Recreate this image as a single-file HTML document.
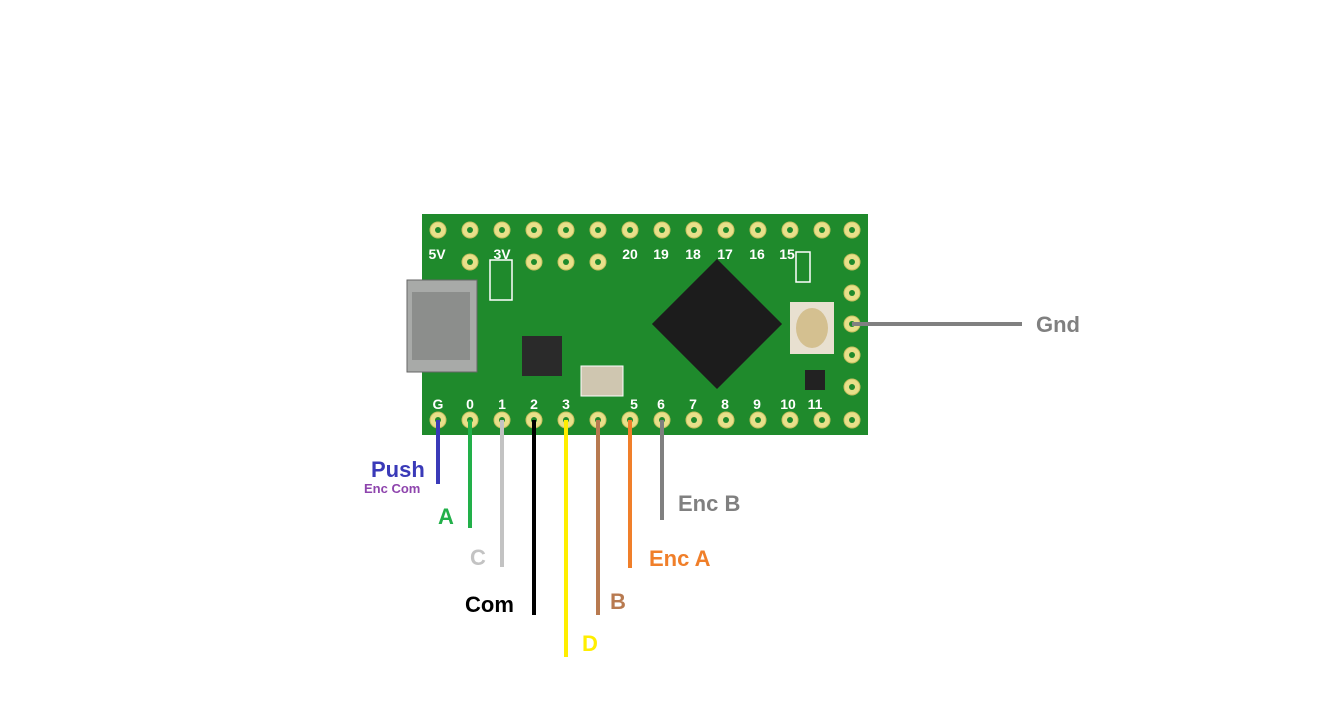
<!DOCTYPE html>
<html><head><style>
html,body{margin:0;padding:0;background:#fff;}
svg text{font-family:"Liberation Sans",sans-serif;font-weight:bold;}
</style></head><body>
<svg width="1336" height="698" viewBox="0 0 1336 698" xmlns="http://www.w3.org/2000/svg">
<rect x="422" y="214" width="446" height="221" fill="#1f8a2c"/>
<g fill="#e8e08a" stroke="#c9c060" stroke-width="1">
<!-- top row -->
<circle cx="438" cy="230" r="8"/><circle cx="470" cy="230" r="8"/><circle cx="502" cy="230" r="8"/><circle cx="534" cy="230" r="8"/><circle cx="566" cy="230" r="8"/><circle cx="598" cy="230" r="8"/><circle cx="630" cy="230" r="8"/><circle cx="662" cy="230" r="8"/><circle cx="694" cy="230" r="8"/><circle cx="726" cy="230" r="8"/><circle cx="758" cy="230" r="8"/><circle cx="790" cy="230" r="8"/><circle cx="822" cy="230" r="8"/><circle cx="852" cy="230" r="8"/>
<!-- bottom row -->
<circle cx="438" cy="420" r="8"/><circle cx="470" cy="420" r="8"/><circle cx="502" cy="420" r="8"/><circle cx="534" cy="420" r="8"/><circle cx="566" cy="420" r="8"/><circle cx="598" cy="420" r="8"/><circle cx="630" cy="420" r="8"/><circle cx="662" cy="420" r="8"/><circle cx="694" cy="420" r="8"/><circle cx="726" cy="420" r="8"/><circle cx="758" cy="420" r="8"/><circle cx="790" cy="420" r="8"/><circle cx="822" cy="420" r="8"/><circle cx="852" cy="420" r="8"/>
<!-- right column -->
<circle cx="852" cy="262" r="8"/><circle cx="852" cy="293" r="8"/><circle cx="852" cy="324" r="8"/><circle cx="852" cy="355" r="8"/><circle cx="852" cy="387" r="8"/>
<!-- second row -->
<circle cx="470" cy="262" r="8"/><circle cx="534" cy="262" r="8"/><circle cx="566" cy="262" r="8"/><circle cx="598" cy="262" r="8"/>
</g>
<g fill="#1f8a2c"><circle cx="438" cy="230" r="3"/><circle cx="470" cy="230" r="3"/><circle cx="502" cy="230" r="3"/><circle cx="534" cy="230" r="3"/><circle cx="566" cy="230" r="3"/><circle cx="598" cy="230" r="3"/><circle cx="630" cy="230" r="3"/><circle cx="662" cy="230" r="3"/><circle cx="694" cy="230" r="3"/><circle cx="726" cy="230" r="3"/><circle cx="758" cy="230" r="3"/><circle cx="790" cy="230" r="3"/><circle cx="822" cy="230" r="3"/><circle cx="852" cy="230" r="3"/>
<circle cx="438" cy="420" r="3"/><circle cx="470" cy="420" r="3"/><circle cx="502" cy="420" r="3"/><circle cx="534" cy="420" r="3"/><circle cx="566" cy="420" r="3"/><circle cx="598" cy="420" r="3"/><circle cx="630" cy="420" r="3"/><circle cx="662" cy="420" r="3"/><circle cx="694" cy="420" r="3"/><circle cx="726" cy="420" r="3"/><circle cx="758" cy="420" r="3"/><circle cx="790" cy="420" r="3"/><circle cx="822" cy="420" r="3"/><circle cx="852" cy="420" r="3"/>
<circle cx="852" cy="262" r="3"/><circle cx="852" cy="293" r="3"/><circle cx="852" cy="324" r="3"/><circle cx="852" cy="355" r="3"/><circle cx="852" cy="387" r="3"/>
<circle cx="470" cy="262" r="3"/><circle cx="534" cy="262" r="3"/><circle cx="566" cy="262" r="3"/><circle cx="598" cy="262" r="3"/></g>
<!-- USB -->
<rect x="407" y="280" width="70" height="92" fill="#a8aaa8" stroke="#666"/>
<rect x="412" y="292" width="58" height="68" fill="#8c8e8c"/>
<!-- chip -->
<rect x="671" y="278" width="92" height="92" fill="#1c1c1c" transform="rotate(45 717 324)"/>
<rect x="522" y="336" width="40" height="40" fill="#2a2a2a"/>
<rect x="581" y="366" width="42" height="30" fill="#cfc6b0" stroke="#fff"/>
<rect x="790" y="302" width="44" height="52" fill="#e8e0d0"/>
<ellipse cx="812" cy="328" rx="16" ry="20" fill="#d4c090"/>
<rect x="490" y="260" width="22" height="40" fill="none" stroke="#fff" stroke-width="1.5"/>
<rect x="796" y="252" width="14" height="30" fill="none" stroke="#fff" stroke-width="1.5"/>
<rect x="805" y="370" width="20" height="20" fill="#222"/>
<g fill="#fff" font-size="14" text-anchor="middle">
<text x="437" y="259">5V</text><text x="502" y="259">3V</text><text x="630" y="259">20</text><text x="661" y="259">19</text><text x="693" y="259">18</text><text x="725" y="259">17</text><text x="757" y="259">16</text><text x="787" y="259">15</text>
<text x="438" y="409">G</text><text x="470" y="409">0</text><text x="502" y="409">1</text><text x="534" y="409">2</text><text x="566" y="409">3</text><text x="634" y="409">5</text><text x="661" y="409">6</text><text x="693" y="409">7</text><text x="725" y="409">8</text><text x="757" y="409">9</text><text x="788" y="409">10</text><text x="815" y="409">11</text>
</g>
<!-- wires -->
<g stroke-width="4" fill="none">
<line x1="438" y1="420" x2="438" y2="484" stroke="#3a3ab8"/>
<line x1="470" y1="420" x2="470" y2="528" stroke="#22b04a"/>
<line x1="502" y1="420" x2="502" y2="567" stroke="#c3c3c3"/>
<line x1="534" y1="420" x2="534" y2="615" stroke="#000"/>
<line x1="566" y1="420" x2="566" y2="657" stroke="#ffee00"/>
<line x1="598" y1="420" x2="598" y2="615" stroke="#b87a50"/>
<line x1="630" y1="420" x2="630" y2="568" stroke="#f07f2a"/>
<line x1="662" y1="420" x2="662" y2="520" stroke="#808080"/>
<line x1="852" y1="324" x2="1022" y2="324" stroke="#808080"/>
</g>
<g font-size="22">
<text x="371" y="477" fill="#3a3ab8">Push</text>
<text x="364" y="493" fill="#8e44ad" font-size="13">Enc Com</text>
<text x="438" y="524" fill="#22b04a">A</text>
<text x="470" y="565" fill="#c3c3c3">C</text>
<text x="465" y="612" fill="#000">Com</text>
<text x="582" y="651" fill="#ffee00">D</text>
<text x="610" y="609" fill="#b87a50">B</text>
<text x="649" y="566" fill="#f07f2a">Enc A</text>
<text x="678" y="511" fill="#808080">Enc B</text>
<text x="1036" y="332" fill="#808080">Gnd</text>
</g>
</svg>
</body></html>
